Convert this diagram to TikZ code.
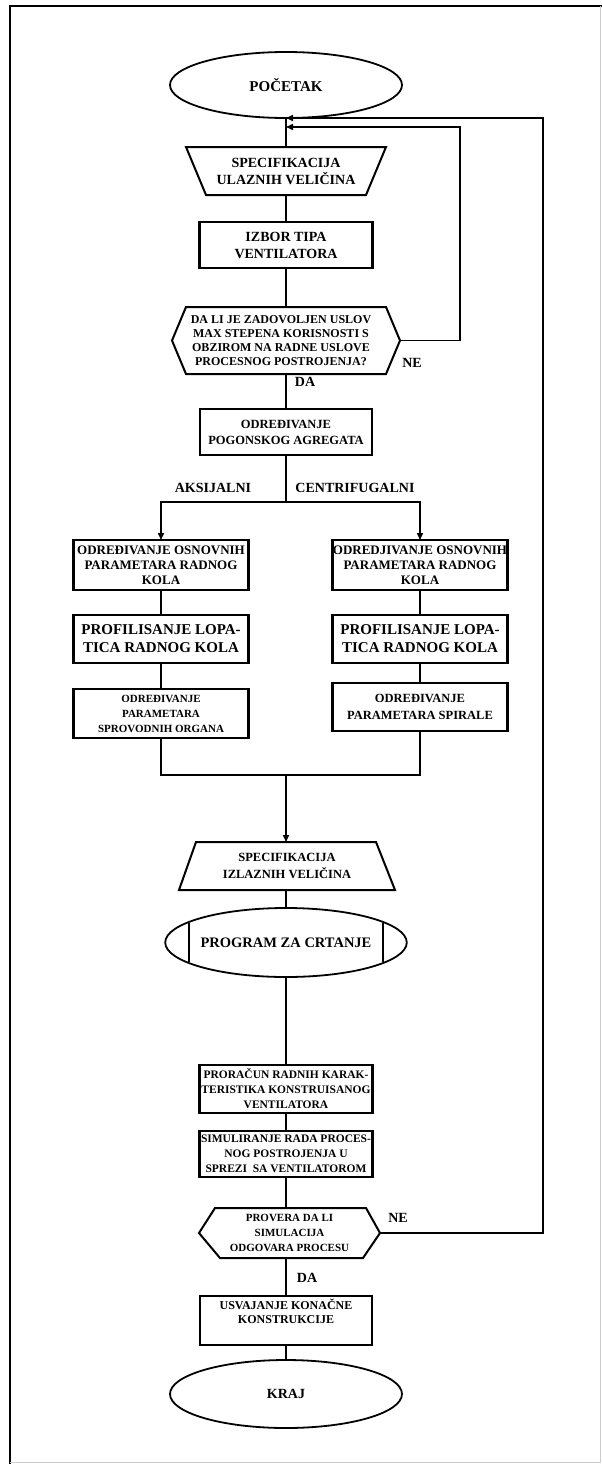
\documentclass[tikz,border=0pt]{standalone}
\usepackage{fontspec}
\setmainfont{Liberation Serif}
\usetikzlibrary{shapes.geometric,calc,arrows.meta}
\begin{document}
\begin{tikzpicture}[x=1pt,y=-1pt,
  box/.style={draw,line width=2.2pt,rectangle,inner sep=0pt,outer sep=0pt,align=center},
  term/.style={draw,line width=1.8pt,ellipse,inner sep=0pt,outer sep=0pt,align=center},
  ghost/.style={inner sep=0pt,outer sep=0pt,align=center},
  outl/.style={line width=2pt,line join=miter},
  conn/.style={line width=1.5pt},
  arr/.style={line width=1.5pt,-{Triangle[length=7pt,width=6pt]}},
  lbl/.style={inner sep=0pt,font=\fontsize{14}{16}\selectfont\bfseries}
]
\useasboundingbox (0,0) rectangle (602,1464);
% frame
\draw[line width=2.5pt] (10,1464) -- (10,6) -- (602,6);
\draw[gray!40,line width=0.8pt] (10,1462) -- (600,1462) -- (600,6);

% nodes
\node[term,minimum width=232pt,minimum height=66pt,font=\fontsize{15}{17}\selectfont\bfseries] (start) at (286,85) {POČETAK};

\node[ghost,minimum width=200pt,minimum height=48pt,font=\fontsize{14}{17}\selectfont\bfseries] (s1) at (286,171) {SPECIFIKACIJA\\ULAZNIH VELIČINA};
\draw[outl] (s1.north west) -- (s1.north east) -- ($(s1.south east)+(-20,0)$) -- ($(s1.south west)+(20,0)$) -- cycle;

\node[box,minimum width=173pt,minimum height=46pt,font=\fontsize{14}{17}\selectfont\bfseries] (izb) at (286,245) {IZBOR TIPA\\VENTILATORA};

\node[ghost,minimum width=228pt,minimum height=67pt,font=\fontsize{12}{14}\selectfont\bfseries] (d1) at (286,340.5) {\hspace*{-10pt}DA LI JE ZADOVOLJEN USLOV\\\hspace*{-10pt}MAX STEPENA KORISNOSTI S\\\hspace*{-10pt}OBZIROM NA RADNE USLOVE\\\hspace*{-10pt}PROCESNOG POSTROJENJA?};
\draw[outl] (d1.west) -- ($(d1.north west)+(14,0)$) -- ($(d1.north east)+(-14,0)$) -- (d1.east) -- ($(d1.south east)+(-14,0)$) -- ($(d1.south west)+(14,0)$) -- cycle;

\node[box,minimum width=172pt,minimum height=46pt,font=\fontsize{12.5}{16}\selectfont\bfseries] (pog) at (286,432) {ODREĐIVANJE\\POGONSKOG AGREGATA};

\node[box,minimum width=175pt,minimum height=50pt,font=\fontsize{13}{15}\selectfont\bfseries] (L1) at (161,565) {ODREĐIVANJE OSNOVNIH\\PARAMETARA RADNOG\\KOLA};
\node[box,minimum width=175pt,minimum height=50pt,font=\fontsize{13}{15}\selectfont\bfseries] (R1) at (420,565) {ODREDJIVANJE OSNOVNIH\\PARAMETARA RADNOG\\KOLA};

\node[box,minimum width=175pt,minimum height=48pt,font=\fontsize{15}{18}\selectfont\bfseries] (L2) at (161,639) {PROFILISANJE LOPA-\\TICA RADNOG KOLA};
\node[box,minimum width=175pt,minimum height=48pt,font=\fontsize{15}{18}\selectfont\bfseries] (R2) at (420,639) {PROFILISANJE LOPA-\\TICA RADNOG KOLA};

\node[box,minimum width=175pt,minimum height=49pt,font=\fontsize{11}{15}\selectfont\bfseries] (L3) at (161,713.5) {ODREĐIVANJE\\PARAMETARA\\SPROVODNIH ORGANA};
\node[box,minimum width=175pt,minimum height=48pt,font=\fontsize{12.5}{17}\selectfont\bfseries] (R3) at (420,707) {ODREĐIVANJE\\PARAMETARA SPIRALE};

\node[ghost,minimum width=216pt,minimum height=48pt,font=\fontsize{12.5}{17}\selectfont\bfseries] (s2) at (287,866) {SPECIFIKACIJA\\IZLAZNIH VELIČINA};
\draw[outl] ($(s2.north west)+(17,0)$) -- ($(s2.north east)+(-19,0)$) -- (s2.south east) -- (s2.south west) -- cycle;

\node[term,minimum width=234pt,minimum height=69pt,font=\fontsize{14.5}{17}\selectfont\bfseries] (prog) at (286,942.5) {PROGRAM ZA CRTANJE};
\draw[line width=1.8pt] ($(prog.center)+(-97,-19.3)$) -- ($(prog.center)+(-97,19.3)$);
\draw[line width=1.8pt] ($(prog.center)+(97,-19.3)$) -- ($(prog.center)+(97,19.3)$);

\node[box,minimum width=173pt,minimum height=48pt,font=\fontsize{11.5}{15}\selectfont\bfseries] (pror) at (286,1089) {PRORAČUN RADNIH KARAK-\\TERISTIKA KONSTRUISANOG\\VENTILATORA};

\node[box,minimum width=173pt,minimum height=46pt,font=\fontsize{11.5}{15}\selectfont\bfseries] (sim) at (286,1154) {SIMULIRANJE RADA PROCES-\\NOG POSTROJENJA U\\SPREZI\ \ SA VENTILATOROM};

\node[ghost,minimum width=181pt,minimum height=50pt,font=\fontsize{11}{15}\selectfont\bfseries] (d2) at (289.5,1233) {PROVERA DA LI\\SIMULACIJA\\ODGOVARA PROCESU};
\draw[outl] (d2.west) -- ($(d2.north west)+(16,0)$) -- ($(d2.north east)+(-14,0)$) -- (d2.east) -- ($(d2.south east)+(-17,0)$) -- ($(d2.south west)+(21,0)$) -- cycle;

\node[box,minimum width=172pt,minimum height=49pt,font=\fontsize{12}{14}\selectfont\bfseries] (usv) at (286,1320.5) {USVAJANJE KONAČNE\\KONSTRUKCIJE\\[4pt]};

\node[term,minimum width=232pt,minimum height=68pt,font=\fontsize{14}{17}\selectfont\bfseries] (kraj) at (286,1394) {KRAJ};

% labels
\node[lbl] (ne1) at (412,363) {NE};
\node[lbl] (da1) at (305,382) {DA};
\node[lbl] (aks) at (213,488) {AKSIJALNI};
\node[lbl] (cen) at (355,488) {CENTRIFUGALNI};
\node[lbl] (ne2) at (398,1218) {NE};
\node[lbl] (da2) at (307,1278) {DA};

% coordinates
\coordinate (o1) at (543,1233);
\coordinate (o2) at (543,118);
\coordinate (i1) at (460,340.5);
\coordinate (i2) at (460,127);
\coordinate (j2) at (286,127);
\coordinate (br) at (286,502);
\coordinate (mg) at (286,775);
\coordinate (ml) at (161,775);
\coordinate (mr) at (420,775);

% connectors
\draw[conn] (start.south) -- (s1.north);
\draw[conn] (s1.south) -- (izb.north);
\draw[conn] (izb.south) -- (d1.north);
\draw[conn] (d1.south) -- (pog.north);
\draw[conn] (pog.south) -- (br);
\draw[arr] (br) -| (L1.north);
\draw[arr] (br) -| (R1.north);
\draw[conn] (L1.south) -- (L2.north);
\draw[conn] (R1.south) -- (R2.north);
\draw[conn] (L2.south) -- (L3.north);
\draw[conn] (R2.south) -- (R3.north);
\draw[conn] (L3.south) -- (ml) -- (mr) -- (R3.south);
\draw[arr] (mg) -- (mg |- s2.north);
\draw[conn] (prog.north |- s2.south) -- (prog.north);
\draw[conn] (prog.south) -- (pror.north);
\draw[conn] (pror.south) -- (sim.north);
\draw[conn] (sim.south) -- (sim.south |- d2.north);
\draw[conn] (usv.north |- d2.south) -- (usv.north);
\draw[conn] (usv.south) -- (kraj.north);
\draw[arr] (d1.east) -- (i1) -- (i2) -- (j2);
\draw[arr] (d2.east) -- (o1) -- (o2) -- (start.south);
\end{tikzpicture}
\end{document}
